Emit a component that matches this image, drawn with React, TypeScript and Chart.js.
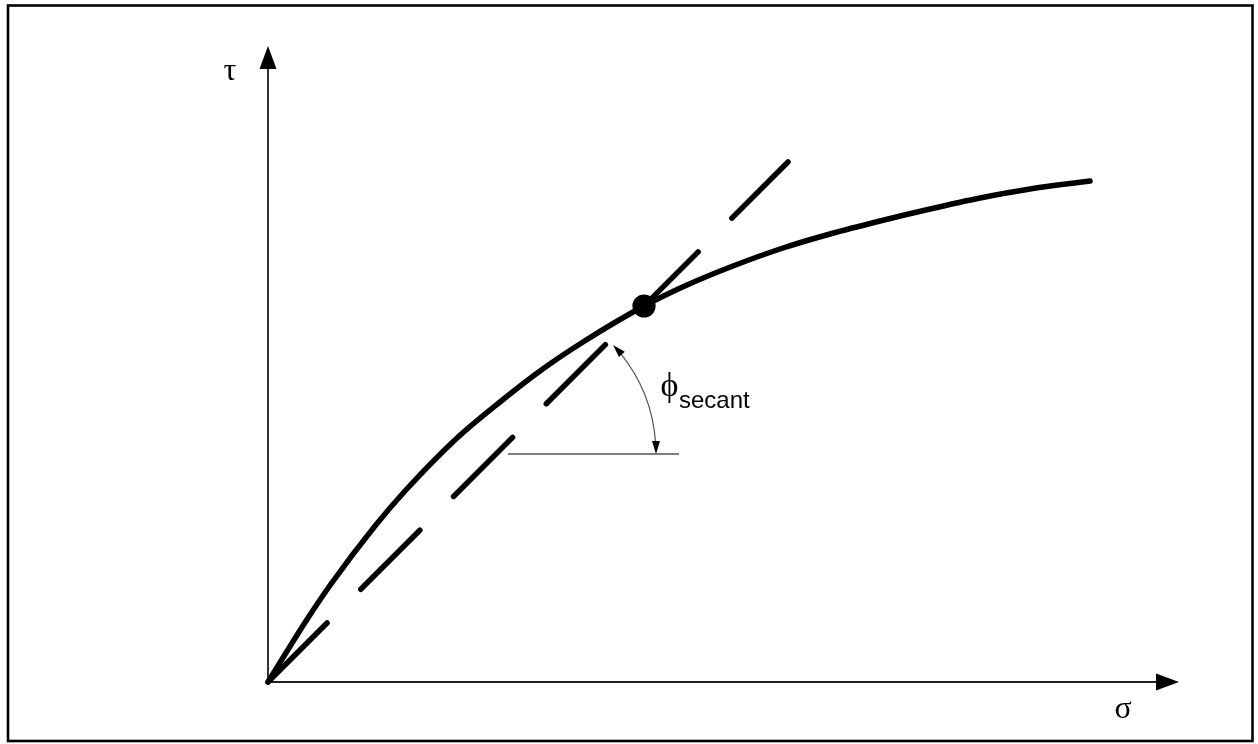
import React, { useEffect, useRef } from "react";
import { Chart, registerables } from "chart.js";

Chart.register(...registerables);

// Data (σ, τ) in arbitrary stress units
const curveSigma = [0, 0.38, 0.63, 1.07, 1.37, 1.88, 2.32, 2.72, 3.15, 3.76, 4.19, 4.65, 5.15, 5.62, 6.12, 6.62, 7.12, 7.62, 8.22];
const curveTau = [0, 0.61, 0.98, 1.56, 1.91, 2.43, 2.8, 3.11, 3.4, 3.76, 3.97, 4.16, 4.34, 4.48, 4.61, 4.73, 4.84, 4.93, 5.01];
const secantSigma = [0, 5.2];
const secantTau = [0, 5.2];
const markSigma = [3.76];
const markTau = [3.76];
const refSigma = [2.4, 4.11];
const refTau = [2.28, 2.28];
const axisSigmaMax = 9.11;
const axisTauMax = 6.36;
const arrowLen = 0.23;
const angleVertex = [2.28, 2.28];
const angleRadius = 1.6;
const angleDeg = 43;
const tauLabel = ["τ", -0.38, 6.02];
const sigmaLabel = ["σ", 8.55, -0.36];
const phiLabel = ["ϕ", 3.925, 2.86];
const subLabel = ["secant", 4.11, 2.74];

const xMin = -2.68, xMax = 9.9, yMin = -0.62, yMax = 6.82;

function pts(xs: number[], ys: number[]) {
  return xs.map((v, i) => ({ x: v, y: ys[i] }));
}

const overlay = {
  id: "overlay",
  afterDatasetsDraw(chart: any) {
    const ctx = chart.ctx as CanvasRenderingContext2D;
    const sx = chart.scales.x;
    const sy = chart.scales.y;
    const px = (v: number) => sx.getPixelForValue(v);
    const py = (v: number) => sy.getPixelForValue(v);
    ctx.save();
    // frame
    ctx.strokeStyle = "#000";
    ctx.lineWidth = 2.6;
    ctx.strokeRect(8, 5.5, 1244.5, 735.5);

    const arrow = (tx: number, ty: number, dx: number, dy: number, len: number, hw: number) => {
      const n = Math.hypot(dx, dy);
      dx /= n; dy /= n;
      const bx = tx - dx * len, by = ty - dy * len;
      ctx.beginPath();
      ctx.moveTo(tx, ty);
      ctx.lineTo(bx - dy * hw, by + dx * hw);
      ctx.lineTo(bx + dy * hw, by - dx * hw);
      ctx.closePath();
      ctx.fill();
    };
    ctx.fillStyle = "#000";
    // axis arrows
    const ox = px(0), oy = py(0);
    const ytip = py(axisTauMax);
    arrow(ox, ytip, 0, -1, py(axisTauMax - arrowLen) - ytip, 8.5);
    const xtip = px(axisSigmaMax);
    arrow(xtip, oy, 1, 0, xtip - px(axisSigmaMax - arrowLen), 8.5);

    // angle arc
    const cx = px(angleVertex[0]), cy = py(angleVertex[1]);
    const r = px(angleVertex[0] + angleRadius) - cx;
    const d = Math.PI / 180;
    ctx.strokeStyle = "#555";
    ctx.lineWidth = 1.2;
    ctx.beginPath();
    ctx.arc(cx, cy, r, -(angleDeg - 3.5) * d, -3.5 * d, false);
    ctx.stroke();
    const t1 = angleDeg * d;
    arrow(cx + r, cy, 0, 1, 13, 4);
    arrow(cx + r * Math.cos(t1), cy - r * Math.sin(t1), -Math.sin(t1), -Math.cos(t1), 13, 4);

    // labels
    ctx.fillStyle = "#000";
    ctx.textBaseline = "alphabetic";
    ctx.textAlign = "center";
    ctx.font = '32px "Liberation Serif"';
    ctx.fillText(tauLabel[0] as string, px(tauLabel[1] as number), py(tauLabel[2] as number));
    ctx.fillText(sigmaLabel[0] as string, px(sigmaLabel[1] as number), py(sigmaLabel[2] as number));
    ctx.textAlign = "left";
    ctx.font = '34px "Liberation Serif", "DejaVu Serif"';
    ctx.fillText(phiLabel[0] as string, px(phiLabel[1] as number), py(phiLabel[2] as number));
    ctx.font = '24px "Liberation Sans"';
    ctx.fillText(subLabel[0] as string, px(subLabel[1] as number), py(subLabel[2] as number));
    ctx.restore();
  },
};

export default function App() {
  const ref = useRef<HTMLCanvasElement | null>(null);
  useEffect(() => {
    if (!ref.current) return;
    const chart = new Chart(ref.current, {
      type: "scatter",
      data: {
        datasets: [
          {
            data: pts(markSigma, markTau),
            pointRadius: 11.6,
            pointBackgroundColor: "#000",
            pointBorderWidth: 0,
            showLine: false,
          },
          {
            data: pts(curveSigma, curveTau),
            showLine: true,
            borderColor: "#000",
            borderWidth: 5.5,
            borderCapStyle: "round",
            borderJoinStyle: "round",
            cubicInterpolationMode: "monotone",
            pointRadius: 0,
          },
          {
            data: pts(secantSigma, secantTau),
            showLine: true,
            borderColor: "#000",
            borderWidth: 5.5,
            borderCapStyle: "round",
            borderDash: [83.5, 47.7],
            pointRadius: 0,
          },
          {
            data: pts(refSigma, refTau),
            showLine: true,
            borderColor: "#555",
            borderWidth: 1.3,
            pointRadius: 0,
          },
          {
            data: pts([0, 0], [0, axisTauMax - arrowLen]),
            showLine: true,
            borderColor: "#1e1e1e",
            borderWidth: 1.8,
            pointRadius: 0,
          },
          {
            data: pts([0, axisSigmaMax - arrowLen], [0, 0]),
            showLine: true,
            borderColor: "#1e1e1e",
            borderWidth: 2,
            pointRadius: 0,
          },
        ] as any,
      },
      options: {
        animation: false,
        responsive: false,
        maintainAspectRatio: false,
        devicePixelRatio: 1,
        layout: { padding: 0, autoPadding: false },
        plugins: { legend: { display: false }, tooltip: { enabled: false }, title: { display: false } },
        events: [],
        scales: {
          x: { type: "linear", min: xMin, max: xMax, display: false },
          y: { type: "linear", min: yMin, max: yMax, display: false },
        },
      } as any,
      plugins: [overlay],
    });
    return () => chart.destroy();
  }, []);
  return (
    <div style={{ position: "absolute", left: 0, top: 0, width: 1258, height: 744, background: "#fff" }}>
      <canvas ref={ref} width={1258} height={744} style={{ display: "block" }} />
    </div>
  );
}
